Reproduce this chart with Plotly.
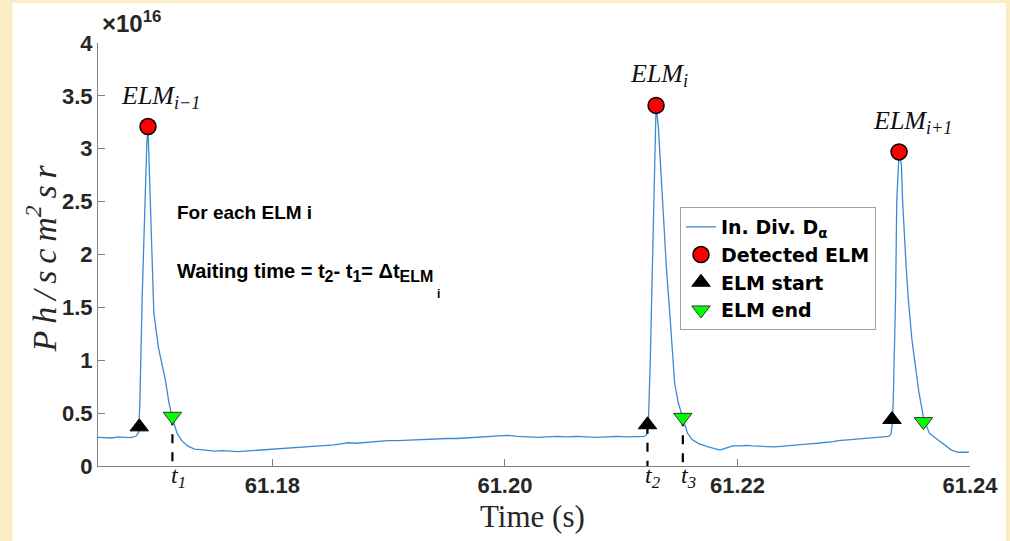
import plotly.graph_objects as go

# ---------------- data (signal in units of 1e16 Ph/(s cm^2 sr)) ----------------
time_s = [
    61.1650, 61.1656, 61.1662, 61.1667, 61.1672, 61.1677, 61.1681, 61.1683, 61.1685,
    61.1686, 61.1688, 61.1690, 61.1692, 61.1693, 61.1694, 61.1695, 61.1697, 61.1698,
    61.1702, 61.1708, 61.1711, 61.1714, 61.1718, 61.1722, 61.1727, 61.1733, 61.1738,
    61.1744, 61.1750, 61.1757, 61.1763, 61.1770, 61.1776, 61.1782, 61.1788, 61.1795,
    61.1801, 61.1808, 61.1814, 61.1820, 61.1827, 61.1833, 61.1840, 61.1846, 61.1853,
    61.1859, 61.1865, 61.1872, 61.1878, 61.1885, 61.1891, 61.1899, 61.1908, 61.1916,
    61.1925, 61.1933, 61.1942, 61.1950, 61.1959, 61.1967, 61.1976, 61.1985, 61.1994,
    61.2002, 61.2011, 61.2019, 61.2028, 61.2036, 61.2045, 61.2053, 61.2062, 61.2070,
    61.2079, 61.2088, 61.2096, 61.2105, 61.2113, 61.2120, 61.2122,
    61.21235, 61.2125, 61.2127, 61.2129, 61.2130, 61.2132, 61.2134, 61.2136, 61.2139,
    61.2142, 61.2146, 61.2149, 61.2153, 61.2157, 61.2161, 61.2167, 61.2175, 61.2182,
    61.2185, 61.2190, 61.2196, 61.2203, 61.2208, 61.2213, 61.2219, 61.2224, 61.2232,
    61.2242, 61.2250, 61.2256, 61.2262, 61.2269, 61.2276, 61.2282, 61.2287, 61.2293,
    61.2298, 61.2304, 61.2310, 61.2316, 61.2322, 61.2326, 61.2330, 61.2332,
    61.2333, 61.2334, 61.2336, 61.2337, 61.2339, 61.2341, 61.2342, 61.2345, 61.2347,
    61.2350, 61.2353, 61.2356, 61.2360, 61.2365, 61.2372, 61.2380, 61.2384, 61.2390,
    61.2395, 61.2399,
]
signal = [
    0.27, 0.27, 0.265, 0.275, 0.27, 0.268, 0.275, 0.285, 0.32,
    0.60, 1.60, 2.40, 3.05, 3.20, 2.85, 2.40, 1.80, 1.45,
    1.12, 0.81, 0.60, 0.45, 0.31, 0.24, 0.19, 0.16, 0.155,
    0.15, 0.14, 0.145, 0.14, 0.135, 0.14, 0.145, 0.15, 0.155,
    0.16, 0.165, 0.17, 0.17, 0.18, 0.185, 0.19, 0.195, 0.20,
    0.21, 0.22, 0.215, 0.22, 0.23, 0.235, 0.24, 0.24, 0.245,
    0.25, 0.25, 0.255, 0.26, 0.26, 0.265, 0.27, 0.275, 0.28,
    0.29, 0.28, 0.275, 0.27, 0.275, 0.28, 0.275, 0.28, 0.275,
    0.27, 0.275, 0.28, 0.275, 0.275, 0.28, 0.30,
    0.45, 1.00, 2.00, 3.00, 3.41, 3.20, 2.80, 2.35, 1.85,
    1.41, 0.78, 0.60, 0.46, 0.31, 0.25, 0.21, 0.18, 0.16,
    0.15, 0.17, 0.19, 0.19, 0.195, 0.19, 0.185, 0.18, 0.18,
    0.19, 0.20, 0.205, 0.21, 0.215, 0.22, 0.23, 0.24, 0.245,
    0.25, 0.255, 0.26, 0.265, 0.27, 0.275, 0.28, 0.30,
    0.38, 0.62, 1.60, 2.50, 2.97, 2.85, 2.51, 1.90, 1.57,
    1.20, 0.94, 0.70, 0.46, 0.31, 0.25, 0.18, 0.15, 0.13,
    0.13, 0.13,
]

elm_peak_t = [61.1693, 61.2130, 61.2339]
elm_peak_v = [3.21, 3.41, 2.97]
elm_start_t = [61.16855, 61.21226, 61.23329]
elm_start_v = [0.37, 0.39, 0.44]
elm_end_t = [61.1714, 61.2153, 61.2360]
elm_end_v = [0.47, 0.46, 0.42]

elm_labels = ["ELM<sub>i\u22121</sub>", "ELM<sub>i</sub>", "ELM<sub>i+1</sub>"]

# dashed markers: t1 (end of ELM i-1), t2 (start of ELM i), t3 (end of ELM i)
t_marks_t = [elm_end_t[0], elm_start_t[1], elm_end_t[1]]
t_marks_v = [elm_end_v[0], elm_start_v[1], elm_end_v[1]]
t_marks_lbl = ["t<sub>1</sub>", "t<sub>2</sub>", "t<sub>3</sub>"]

x_ticks = [61.18, 61.20, 61.22, 61.24]
x_tick_text = ["61.18", "61.20", "61.22", "61.24"]
y_ticks = [0, 0.5, 1, 1.5, 2, 2.5, 3, 3.5, 4]
y_tick_text = ["0", "0.5", "1", "1.5", "2", "2.5", "3", "3.5", "4"]

# ---------------- layout geometry ----------------
W, H = 1010, 541
L, R, T, B = 98, 34, 43, 75
PW, PH = W - L - R, H - T - B


def px(xp):
    return (xp - L) / PW


def py(yp):
    return (H - B - yp) / PH


TICK_FONT = dict(family="Liberation Sans", size=22, color="#262626", weight="bold")
SERIF = "Liberation Serif"
HS = "\u2009"  # thin space to widen the math-style label


def sub(s, size=16):
    return "<sub><span style='font-size:%dpx'>%s</span></sub>" % (size, s)


fig = go.Figure()

fig.add_trace(go.Scatter(
    x=time_s, y=signal, mode="lines", name="In. Div. D<sub>\u03b1</sub>",
    line=dict(color="#3a8bd3", width=1.3),
))

for tt, vv in zip(t_marks_t, t_marks_v):
    fig.add_trace(go.Scatter(
        x=[tt, tt], y=[vv, 0], mode="lines", showlegend=False,
        line=dict(color="black", width=2.2, dash="dash"), hoverinfo="skip",
    ))

fig.add_trace(go.Scatter(
    x=elm_peak_t, y=elm_peak_v, mode="markers", name="Detected ELM",
    marker=dict(symbol="circle", size=16, color="#ff0000",
                line=dict(color="black", width=1.5)),
))
fig.add_trace(go.Scatter(
    x=elm_start_t, y=elm_start_v, mode="markers", name="ELM start",
    marker=dict(symbol="triangle-up", size=16, color="black",
                line=dict(color="black", width=1)),
))
fig.add_trace(go.Scatter(
    x=elm_end_t, y=elm_end_v, mode="markers", name="ELM end",
    marker=dict(symbol="triangle-down", size=16, color="#00ff00",
                line=dict(color="#333333", width=1)),
))

annotations = []
# ELM labels above peaks
for tt, vv, lbl, dx in zip(elm_peak_t, elm_peak_v, elm_labels, [13, 3, 13]):
    annotations.append(dict(
        x=tt, y=vv, xref="x", yref="y", text="<i>" + lbl + "</i>", showarrow=False,
        xshift=dx, yshift=30, font=dict(family=SERIF, size=26, color="#111111"),
    ))
# t labels under the axis
for tt, lbl in zip(t_marks_t, t_marks_lbl):
    annotations.append(dict(
        x=tt, y=py(477), xref="x", yref="paper", yanchor="middle",
        text="<i>" + lbl + "</i>",
        showarrow=False, xshift=6, font=dict(family=SERIF, size=24, color="#111111"),
    ))
# exponent
annotations.append(dict(
    x=px(100), y=py(22), xref="paper", yref="paper", xanchor="left", yanchor="middle",
    text="\u00d710<sup>16</sup>", showarrow=False,
    font=dict(family="Liberation Sans", size=24, color="#262626", weight="bold"),
))
# explanatory text
annotations.append(dict(
    x=px(176), y=py(212), xref="paper", yref="paper", xanchor="left", yanchor="middle",
    text="For each ELM i", showarrow=False,
    font=dict(family="Liberation Sans", size=19, color="black", weight="bold"),
))
annotations.append(dict(
    x=px(176), y=py(272), xref="paper", yref="paper", xanchor="left", yanchor="middle",
    text="Waiting time = t" + sub("2") + "- t" + sub("1") + "= \u0394t" + sub("ELM"),
    showarrow=False,
    font=dict(family="Liberation Sans", size=20, color="black", weight="bold"),
))
annotations.append(dict(
    x=px(437), y=py(294), xref="paper", yref="paper", xanchor="left", yanchor="middle",
    text="i", showarrow=False,
    font=dict(family="Liberation Sans", size=12, color="black", weight="bold"),
))
# axis titles
ytitle = HS.join(["P", "h", "/", "s", "c", "m"]) + "<sup>2</sup>" + HS + "s" + HS + "r"
annotations.append(dict(
    x=px(41), y=py(258), xref="paper", yref="paper", xanchor="center", yanchor="middle",
    text="<i>" + ytitle + "</i>", textangle=-90, showarrow=False,
    font=dict(family=SERIF, size=34, color="#262626"),
))
annotations.append(dict(
    x=px(535), y=py(516), xref="paper", yref="paper", xanchor="center", yanchor="middle",
    text="Time (s)", showarrow=False,
    font=dict(family=SERIF, size=31, color="#262626"),
))

fig.update_layout(
    width=W, height=H,
    margin=dict(l=L, r=R, t=T, b=B, pad=0),
    paper_bgcolor="#faedc3",
    plot_bgcolor="white",
    showlegend=True,
    legend=dict(
        x=px(684), y=py(207), xanchor="left", yanchor="top",
        bgcolor="white", bordercolor="#a0a0a0", borderwidth=1,
        font=dict(family="DejaVu Sans", size=19, color="black", weight="bold"),
        itemwidth=30, tracegroupgap=0,
    ),
    annotations=annotations,
    shapes=[dict(
        type="rect", xref="paper", yref="paper", layer="below",
        x0=px(12), x1=px(1012), y0=py(543), y1=py(3),
        fillcolor="white", line=dict(width=0),
    )],
    xaxis=dict(
        range=[61.165, 61.24], tickvals=x_ticks, ticktext=x_tick_text,
        ticks="inside", ticklen=7, tickcolor="#808080", tickwidth=1,
        showline=True, linecolor="#808080", linewidth=1, mirror=False,
        showgrid=False, zeroline=False, tickfont=TICK_FONT,
    ),
    yaxis=dict(
        range=[0, 4], tickvals=y_ticks, ticktext=y_tick_text,
        ticks="inside", ticklen=7, tickcolor="#808080", tickwidth=1,
        showline=True, linecolor="#808080", linewidth=1, mirror=False,
        showgrid=False, zeroline=False, tickfont=TICK_FONT,
    ),
)

fig.write_html("out.html", config={"displayModeBar": False},
               post_script="document.body.style.margin='0';")
